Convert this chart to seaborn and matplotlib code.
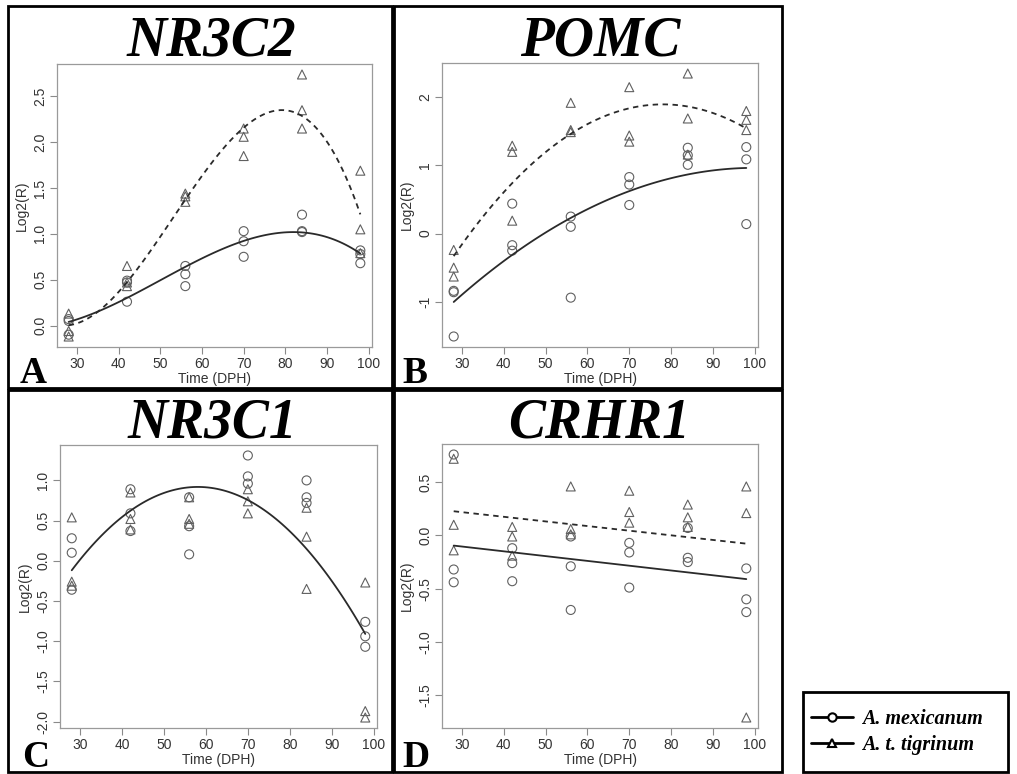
import matplotlib
matplotlib.use("Agg")
import matplotlib.pyplot as plt
from matplotlib.lines import Line2D
from matplotlib.patches import Rectangle
from matplotlib.ticker import MultipleLocator, FormatStrFormatter
import pandas as pd
import seaborn as sns

# sampling days and the two species
days = [28, 42, 56, 70, 84, 98]
species = ["A. mexicanum", "A. t. tigrinum"]

# log2(R), three replicates per day
nr3c2_mex = [[0.07, 0.05, -0.10], [0.49, 0.47, 0.26], [0.65, 0.56, 0.43],
             [1.03, 0.92, 0.75], [1.21, 1.03, 1.02], [0.82, 0.78, 0.68]]
nr3c2_tig = [[0.13, -0.06, -0.12], [0.65, 0.47, 0.43], [1.44, 1.41, 1.35],
             [2.15, 2.06, 1.85], [2.74, 2.35, 2.15], [1.69, 1.05, 0.79]]

pomc_mex = [[-0.84, -0.86, -1.51], [0.44, -0.17, -0.25], [0.25, 0.10, -0.94],
            [0.83, 0.72, 0.42], [1.26, 1.15, 1.01], [1.27, 1.09, 0.14]]
pomc_tig = [[-0.24, -0.50, -0.63], [1.29, 1.20, 0.19], [1.92, 1.52, 1.49],
            [2.15, 1.44, 1.35], [2.35, 1.69, 1.16], [1.80, 1.67, 1.52]]

nr3c1_mex = [[0.28, 0.10, -0.36], [0.89, 0.59, 0.37], [0.79, 0.43, 0.08],
             [1.31, 1.05, 0.96], [1.00, 0.79, 0.72], [-0.76, -0.94, -1.07]]
nr3c1_tig = [[0.54, -0.26, -0.31], [0.85, 0.52, 0.39], [0.79, 0.52, 0.46],
             [0.89, 0.74, 0.59], [0.66, 0.30, -0.35], [-0.27, -1.87, -1.95]]

crhr1_mex = [[0.76, -0.32, -0.44], [-0.12, -0.26, -0.43], [-0.01, -0.29, -0.70],
             [-0.07, -0.16, -0.49], [0.07, -0.21, -0.25], [-0.31, -0.60, -0.72]]
crhr1_tig = [[0.72, 0.10, -0.14], [0.08, -0.01, -0.19], [0.46, 0.06, 0.01],
             [0.42, 0.22, 0.12], [0.29, 0.17, 0.08], [0.46, 0.21, -1.71]]

genes = ["NR3C2", "POMC", "NR3C1", "CRHR1"]
letters = ["A", "B", "C", "D"]
values = {
    "NR3C2": (nr3c2_mex, nr3c2_tig),
    "POMC": (pomc_mex, pomc_tig),
    "NR3C1": (nr3c1_mex, nr3c1_tig),
    "CRHR1": (crhr1_mex, crhr1_tig),
}
# polynomial trend fitted per group ("pooled" = both species together)
fit_order = {
    "NR3C2": {"A. mexicanum": 3, "A. t. tigrinum": 3},
    "POMC": {"A. mexicanum": 2, "A. t. tigrinum": 2},
    "NR3C1": {"pooled": 2},
    "CRHR1": {"A. mexicanum": 1, "A. t. tigrinum": 1},
}
ytick_step = {"NR3C2": 0.5, "POMC": 1, "NR3C1": 0.5, "CRHR1": 0.5}
ytick_fmt = {"NR3C2": "%.1f", "POMC": "%d", "NR3C1": "%.1f", "CRHR1": "%.1f"}

rows = []
for gene in genes:
    for sp, vals in zip(species, values[gene]):
        for d, reps in zip(days, vals):
            for v in reps:
                rows.append((gene, sp, d, v))
df = pd.DataFrame(rows, columns=["gene", "species", "dph", "log2r"])

W, H = 1017, 774

sns.set_theme(style="white")
plt.rcParams["font.family"] = ["Liberation Sans", "DejaVu Sans"]
plt.rcParams["axes.unicode_minus"] = False


def fig_rect(x0, y0, x1, y1):
    # pixel box (top-left origin) -> figure fraction
    return [x0 / W, 1 - y1 / H, (x1 - x0) / W, (y1 - y0) / H]


def add_box(fig, box):
    r = fig_rect(*box)
    fig.add_artist(Rectangle((r[0], r[1]), r[2], r[3], transform=fig.transFigure,
                             fill=False, ec="black", lw=2))


# axes box, panel frame, title centre / baseline, letter position (pixels)
layout = {
    "NR3C2": ((57, 64, 372, 347), (8, 6, 392, 388), (211, 55), (20, 383)),
    "POMC": ((442, 63, 758, 347), (394, 6, 782, 388), (600, 55), (402, 383)),
    "NR3C1": ((60, 445, 377, 728), (8, 390, 392, 772), (212, 438), (22, 767)),
    "CRHR1": ((442, 444, 758, 728), (394, 390, 782, 772), (599, 438), (402, 767)),
}

fig = plt.figure(figsize=(W / 100, H / 100), dpi=100)

markers = {"A. mexicanum": "o", "A. t. tigrinum": "^"}
styles = {"A. mexicanum": "-", "A. t. tigrinum": (0, (3, 2.5)), "pooled": "-"}

for gene, letter in zip(genes, letters):
    ax_box, frame, title_pos, letter_pos = layout[gene]
    ax = fig.add_axes(fig_rect(*ax_box))
    sub = df[df.gene == gene]

    for sp in species:
        sns.scatterplot(data=sub[sub.species == sp], x="dph", y="log2r",
                        marker=markers[sp], s=42, facecolor="none",
                        edgecolor="#606060", linewidth=0.8,
                        ax=ax, legend=False, zorder=2)

    for group, order in fit_order[gene].items():
        part = sub if group == "pooled" else sub[sub.species == group]
        sns.regplot(data=part, x="dph", y="log2r", order=order, ci=None,
                    scatter=False, truncate=True, ax=ax,
                    line_kws=dict(color="#2a2a2a", lw=1.3, ls=styles[group]))

    ax.margins(0.04)
    ax.xaxis.set_major_locator(MultipleLocator(10))
    ax.yaxis.set_major_locator(MultipleLocator(ytick_step[gene]))
    ax.yaxis.set_major_formatter(FormatStrFormatter(ytick_fmt[gene]))
    ax.tick_params(direction="out", length=5, width=0.8, color="#8a8a8a",
                   labelcolor="#333333", labelsize=10, pad=2,
                   bottom=True, left=True)
    ax.tick_params(axis="y", labelrotation=90)
    plt.setp(ax.yaxis.get_majorticklabels(), va="center")
    for s in ax.spines.values():
        s.set_color("#9a9a9a")
        s.set_linewidth(0.9)
    ax.set_xlabel("Time (DPH)", fontsize=10, color="#333333", labelpad=1)
    ax.set_ylabel("Log2(R)", fontsize=10, color="#333333", labelpad=3)

    add_box(fig, frame)
    fig.text(title_pos[0] / W, 1 - title_pos[1] / H, gene, color="black",
             family="Liberation Serif", fontsize=40, fontweight="bold",
             fontstyle="italic", ha="center", va="baseline")
    fig.text(letter_pos[0] / W, 1 - letter_pos[1] / H, letter, color="black",
             family="Liberation Serif", fontsize=27, fontweight="bold",
             ha="left", va="baseline")

# legend in its own box, lower right
handles = [Line2D([], [], color="black", lw=2, marker=markers[sp], ms=6,
                  mfc="white", mec="black", mew=1.5) for sp in species]
leg = fig.legend(handles, species, loc="center left",
                 bbox_to_anchor=(801 / W, 1 - 732 / H), frameon=False,
                 prop=dict(family="Liberation Serif", weight="bold",
                           style="italic", size=14.5),
                 handlelength=2.1, handletextpad=0.45, labelspacing=0.3,
                 borderpad=0)
for t in leg.get_texts():
    t.set_color("black")
add_box(fig, (803, 692, 1008, 772))

fig.savefig("out.png", dpi=100)
